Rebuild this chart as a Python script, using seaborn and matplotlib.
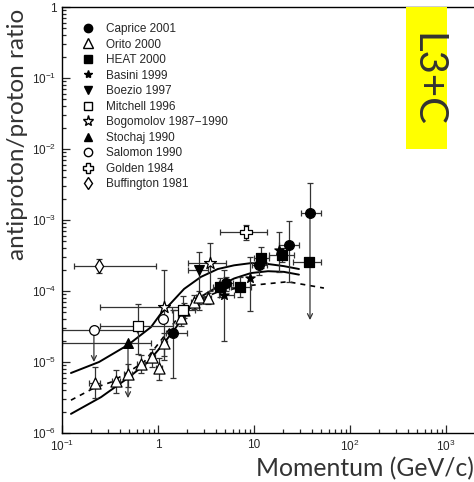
import numpy as np
import matplotlib
matplotlib.use("Agg")
import matplotlib.pyplot as plt
import seaborn as sns
from matplotlib.lines import Line2D
from matplotlib.patches import Rectangle
from matplotlib.ticker import LogLocator, NullFormatter

# -----------------------
# model curves
# -----------------------
curve_a_x = [0.124, 0.243, 0.487, 0.845, 1.07, 1.37, 1.87, 2.8, 4.2, 6.2, 9.3, 14, 20.5, 29.4]
curve_a_y = [7.0e-6, 1.0e-5, 1.74e-5, 3.1e-5, 4.8e-5, 6.8e-5, 1.07e-4, 1.58e-4, 2.04e-4,
             2.3e-4, 2.47e-4, 2.4e-4, 2.24e-4, 2.04e-4]
curve_b_x = [0.124, 0.255, 0.487, 0.787, 1.07, 1.47, 2.05, 3.01, 4.2, 6.2, 9.3, 14, 20.5, 29.4]
curve_b_y = [1.86e-6, 3.2e-6, 5.96e-6, 1.0e-5, 1.63e-5, 2.8e-5, 5.4e-5, 8.8e-5, 1.15e-4,
             1.5e-4, 1.79e-4, 1.9e-4, 1.86e-4, 1.7e-4]
curve_d_x = [0.124, 0.215, 0.324, 0.487, 0.715, 1.07, 1.61, 2.8, 4.2, 9.3, 22.5, 53.5]
curve_d_y = [2.9e-6, 4.3e-6, 5.2e-6, 7.2e-6, 1.0e-5, 2.0e-5, 4.2e-5, 7.7e-5, 9.7e-5,
             1.2e-4, 1.35e-4, 1.1e-4]

# -----------------------
# measurements
# -----------------------
caprice_x = [1.43, 5.1, 11.3, 23.2, 38.3]
caprice_y = [2.57e-5, 1.29e-4, 2.3e-4, 4.45e-4, 1.26e-3]
caprice_xlo = [1.2, 4.3, 9.5, 18.2, 30.9]
caprice_xhi = [2.0, 6.0, 13.5, 29.5, 49.9]
caprice_ylo = [5.9e-6, 1.0e-4, 1.7e-4, 1.34e-4, 1.26e-3]
caprice_yhi = [5.4e-5, 1.6e-4, 3.2e-4, 9.7e-4, 3.3e-3]

orito_x = [0.221, 0.365, 0.487, 0.665, 0.866, 1.02, 1.155, 1.74, 1.87, 2.37, 2.67, 3.31]
orito_y = [5.0e-6, 5.4e-6, 6.8e-6, 9.4e-6, 1.17e-5, 8.2e-6, 1.85e-5, 4.2e-5, 5.4e-5,
           7.0e-5, 8.2e-5, 7.9e-5]
orito_xlo = [0.19, 0.33, 0.44, 0.60, 0.80, 0.95, 1.08, 1.60, 1.75, 2.2, 2.5, 3.05]
orito_xhi = [0.25, 0.40, 0.53, 0.73, 0.93, 1.10, 1.24, 1.90, 2.00, 2.55, 2.85, 3.6]
orito_ylo = [3.1e-6, 3.7e-6, 4.5e-6, 7.0e-6, 8.5e-6, 5.5e-6, 1.2e-5, 3.2e-5, 4.2e-5,
             5.6e-5, 6.5e-5, 6.5e-5]
orito_yhi = [8.6e-6, 7.6e-6, 9.5e-6, 1.25e-5, 1.5e-5, 1.15e-5, 2.6e-5, 5.5e-5, 6.8e-5,
             8.8e-5, 1.0e-4, 9.5e-5]

heat_x = [4.42, 7.15, 11.8, 19.6, 37.3]
heat_y = [1.14e-4, 1.14e-4, 2.9e-4, 3.2e-4, 2.6e-4]
heat_xlo = [3.7, 5.8, 10.0, 14.3, 25.5]
heat_xhi = [5.5, 9.3, 14.3, 26.0, 49.9]
heat_ylo = [8.2e-5, 8.2e-5, 2.1e-4, 2.6e-4, 2.6e-4]
heat_yhi = [1.5e-4, 1.6e-4, 4.1e-4, 4.0e-4, 2.6e-4]

basini_x = [4.87, 9.1, 18.2]
basini_y = [8.7e-5, 1.5e-4, 3.8e-4]
basini_xlo = [4.3, 9.1, 18.2]
basini_xhi = [6.2, 9.1, 18.2]
basini_ylo = [2.0e-5, 5.2e-5, 1.86e-4]
basini_yhi = [2.0e-4, 3.0e-4, 6.8e-4]

boezio_x = [2.67]
boezio_y = [2.0e-4]
boezio_xlo = [2.05]
boezio_xhi = [3.3]
boezio_ylo = [5.4e-5]
boezio_yhi = [3.5e-4]

mitchell_x = [0.62, 1.82]
mitchell_y = [3.2e-5, 5.4e-5]
mitchell_xlo = [0.25, 1.4]
mitchell_xhi = [1.45, 2.4]
mitchell_ylo = [1.3e-5, 3.5e-5]
mitchell_yhi = [6.6e-5, 8.5e-5]

bogomolov_x = [1.15, 3.48]
bogomolov_y = [5.9e-5, 2.5e-4]
bogomolov_xlo = [0.25, 2.05]
bogomolov_xhi = [1.8, 5.1]
bogomolov_ylo = [1.06e-5, 1.0e-4]
bogomolov_yhi = [2.0e-4, 4.7e-4]

stochaj_x = [0.487]
stochaj_y = [1.85e-5]
stochaj_xlo = [0.1]
stochaj_xhi = [0.85]

salomon_x = [0.215, 1.13]
salomon_y = [2.8e-5, 4.0e-5]
salomon_xlo = [0.1, 1.13]
salomon_xhi = [0.6, 1.13]

golden_x = [8.3]
golden_y = [6.8e-4]
golden_xlo = [4.4]
golden_xhi = [13.6]
golden_ylo = [5.3e-4]
golden_yhi = [8.5e-4]

buffington_x = [0.24]
buffington_y = [2.25e-4]
buffington_xlo = [0.133]
buffington_xhi = [0.95]
buffington_ylo = [1.8e-4]
buffington_yhi = [2.8e-4]

# upper-limit arrows: x, from, to
arrow_x = [0.215, 0.487, 38.3]
arrow_top = [2.8e-5, 1.85e-5, 1.26e-3]
arrow_bottom = [1.0e-5, 3.1e-6, 3.9e-5]

legend_labels = ["Caprice 2001", "Orito 2000", "HEAT 2000", "Basini 1999", "Boezio 1997",
                 "Mitchell 1996", "Bogomolov 1987\u22121990", "Stochaj 1990",
                 "Salomon 1990", "Golden 1984", "Buffington 1981"]

sns.set_style("ticks")
plt.rcParams["font.family"] = ["Liberation Sans", "DejaVu Sans"]
plt.rcParams["mathtext.fontset"] = "custom"
plt.rcParams["mathtext.rm"] = "Liberation Sans"
plt.rcParams["mathtext.it"] = "Liberation Sans:italic"

fig = plt.figure(figsize=(4.74, 4.82), dpi=100)
ax = fig.add_axes([62 / 474, 49 / 482, 432 / 474, 426 / 482])

ERR = "#333333"


def points(x, y, marker, filled, ms, xlo=None, xhi=None, ylo=None, yhi=None):
    x = np.array(x)
    y = np.array(y)
    xerr = None if xlo is None else [x - np.array(xlo), np.array(xhi) - x]
    yerr = None if ylo is None else [y - np.array(ylo), np.array(yhi) - y]
    if xerr is not None or yerr is not None:
        ax.errorbar(x, y, xerr=xerr, yerr=yerr, fmt="none", ecolor=ERR,
                    elinewidth=0.9, capsize=2.5, capthick=0.9, zorder=2)
    sns.scatterplot(x=x, y=y, marker=marker, s=ms ** 2,
                    color="black" if filled else "white",
                    edgecolor="black", linewidth=0.9, ax=ax, zorder=4, legend=False)


# curves
sns.lineplot(x=curve_a_x, y=curve_a_y, color="black", lw=1.4, ax=ax, sort=False, estimator=None)
sns.lineplot(x=curve_b_x, y=curve_b_y, color="black", lw=1.4, ax=ax, sort=False, estimator=None)
sns.lineplot(x=curve_d_x, y=curve_d_y, color="black", lw=1.2, ax=ax, sort=False,
             estimator=None, linestyle=(0, (3, 3)))

points(caprice_x, caprice_y, "o", True, 7, caprice_xlo, caprice_xhi, caprice_ylo, caprice_yhi)
points(orito_x, orito_y, "^", False, 8, orito_xlo, orito_xhi, orito_ylo, orito_yhi)
points(heat_x, heat_y, "s", True, 7, heat_xlo, heat_xhi, heat_ylo, heat_yhi)
points(basini_x, basini_y, "*", True, 7, basini_xlo, basini_xhi, basini_ylo, basini_yhi)
points(boezio_x, boezio_y, "v", True, 7, boezio_xlo, boezio_xhi, boezio_ylo, boezio_yhi)
points(mitchell_x, mitchell_y, "s", False, 7, mitchell_xlo, mitchell_xhi, mitchell_ylo, mitchell_yhi)
points(bogomolov_x, bogomolov_y, "*", False, 9, bogomolov_xlo, bogomolov_xhi, bogomolov_ylo, bogomolov_yhi)
points(stochaj_x, stochaj_y, "^", True, 7, stochaj_xlo, stochaj_xhi)
points(salomon_x, salomon_y, "o", False, 7, salomon_xlo, salomon_xhi)
points(golden_x, golden_y, "P", False, 8, golden_xlo, golden_xhi, golden_ylo, golden_yhi)
points(buffington_x, buffington_y, "d", False, 7, buffington_xlo, buffington_xhi, buffington_ylo, buffington_yhi)

for xa, yt, yb in zip(arrow_x, arrow_top, arrow_bottom):
    ax.annotate("", xy=(xa, yb), xytext=(xa, yt),
                arrowprops=dict(arrowstyle="->", color=ERR, lw=0.9, shrinkA=0, shrinkB=0,
                                mutation_scale=9), zorder=2)

# axes
ax.set_xscale("log")
ax.set_yscale("log")
ax.set_xlim(0.1, 10 ** 3.5)
ax.set_ylim(1e-6, 1)
ax.set_xticks([0.1, 1, 10, 100, 1000])
ax.set_xticklabels(["$10^{-1}$", "1", "10", "$10^{2}$", "$10^{3}$"])
ax.set_yticks([1e-6, 1e-5, 1e-4, 1e-3, 1e-2, 1e-1, 1])
ax.set_yticklabels(["$10^{-6}$", "$10^{-5}$", "$10^{-4}$", "$10^{-3}$", "$10^{-2}$", "$10^{-1}$", "1"])
for axis in (ax.xaxis, ax.yaxis):
    axis.set_minor_locator(LogLocator(base=10, subs=np.arange(2, 10), numticks=20))
    axis.set_minor_formatter(NullFormatter())
ax.tick_params(which="both", direction="in", top=False, right=False, width=0.9, labelsize=8.5)
ax.tick_params(which="major", length=6, pad=4)
ax.tick_params(which="minor", length=3)
for s in ax.spines.values():
    s.set_linewidth(1.0)
    s.set_color("black")

label_font = dict(family=["Lato", "Liberation Sans"], weight="normal", color="#333333")
ax.set_ylabel("antiproton/proton ratio", fontsize=17.5, loc="top", fontdict=label_font)
ax.yaxis.set_label_coords(-0.078, 0.995)
ax.set_xlabel("Momentum (GeV/c)", fontsize=17.8, loc="right", fontdict=label_font)
ax.xaxis.set_label_coords(0.954, -0.057)

# legend
handles = [
    Line2D([], [], ls="none", marker="o", ms=6, mfc="black", mec="black"),
    Line2D([], [], ls="none", marker="^", ms=7, mfc="white", mec="black"),
    Line2D([], [], ls="none", marker="s", ms=6, mfc="black", mec="black"),
    Line2D([], [], ls="none", marker="*", ms=6, mfc="black", mec="black"),
    Line2D([], [], ls="none", marker="v", ms=6, mfc="black", mec="black"),
    Line2D([], [], ls="none", marker="s", ms=6, mfc="white", mec="black"),
    Line2D([], [], ls="none", marker="*", ms=8, mfc="white", mec="black"),
    Line2D([], [], ls="none", marker="^", ms=6, mfc="black", mec="black"),
    Line2D([], [], ls="none", marker="o", ms=6, mfc="white", mec="black"),
    Line2D([], [], ls="none", marker="P", ms=7, mfc="white", mec="black"),
    Line2D([], [], ls="none", marker="d", ms=6, mfc="white", mec="black"),
]
fig.legend(handles, legend_labels, loc="upper left", bbox_to_anchor=(82 / 474, 1 - 23 / 482),
           frameon=False, fontsize=8.5, handlelength=1.0, handletextpad=1.0,
           labelspacing=0.3, borderpad=0, borderaxespad=0)

# L3+C tag
fig.add_artist(Rectangle((406 / 474, 1 - 149 / 482), 41 / 474, 142 / 482,
                         transform=fig.transFigure, facecolor="#ffff00", edgecolor="none"))
fig.text(426.5 / 474, 1 - 80 / 482, "L3+C", rotation=-90, ha="center", va="center",
         fontsize=29, color="#333333", family=["Lato", "Liberation Sans"], weight="normal")

fig.savefig("out.png", dpi=100)
